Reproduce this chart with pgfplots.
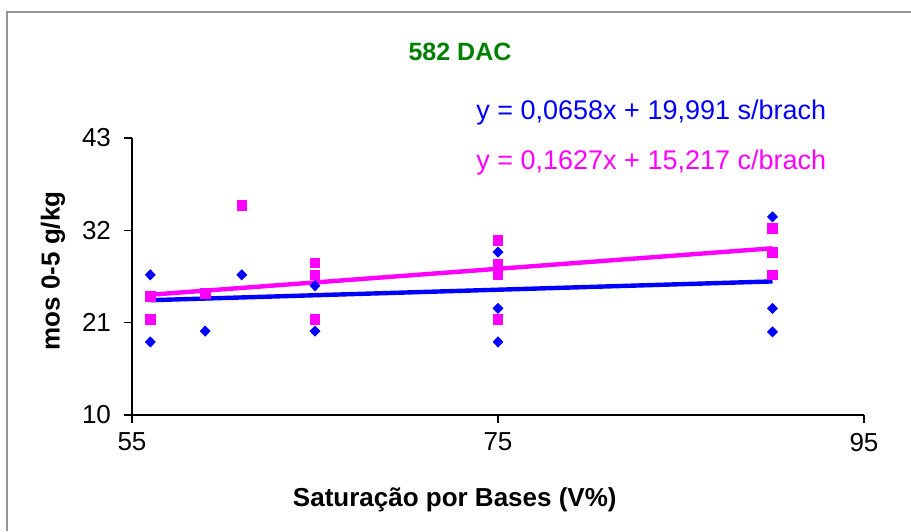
\documentclass[border=0pt]{standalone}
\usepackage{pgfplots}
\pgfplotsset{compat=1.18}
\usepackage{fontspec}
\setmainfont{Liberation Sans}
\definecolor{sblue}{RGB}{0,0,255}
\definecolor{smag}{RGB}{255,0,255}
\definecolor{titlegreen}{RGB}{0,128,0}
\definecolor{framegray}{RGB}{150,150,150}
\begin{document}
\begin{tikzpicture}[x=0.5pt,y=0.5pt]
\useasboundingbox (0,0) rectangle (911,531);
\draw[framegray, line width=0.8pt] (7,0) -- (7,519) -- (911,519);
\coordinate (O) at (132,116);
\begin{axis}[
  at={(O)}, anchor=south west,
  scale only axis, width=366pt, height=138.5pt,
  xmin=55, xmax=95, ymin=10, ymax=43,
  axis lines*=left,
  axis line style={-, black, line width=0.6pt},
  xtick={55,75,95}, ytick={10,21,32,43},
  tick align=outside, major tick length=4pt,
  tick style={black, line width=0.6pt},
  ticklabel style={font=\fontsize{13}{15}\selectfont},
  xticklabel style={yshift=-1.5pt},
  yticklabel style={xshift=-3pt},
  /pgf/number format/assume math mode=true,
  xlabel={Saturação por Bases (V\%)},
  xlabel style={at={(axis description cs:0.441,-0.307)}, anchor=center, font=\bfseries\fontsize{13}{15}\selectfont},
  ylabel={mos 0-5 g/kg},
  ylabel style={at={(axis description cs:-0.108,0.52)}, anchor=center, font=\bfseries\fontsize{13}{15}\selectfont},
  clip=false,
]
% s/brach points
\addplot[only marks, mark=diamond*, mark size=2.5pt, color=sblue, mark options={xscale=1.3}] coordinates {
 (56,26.7) (56,18.7) (59,20.0) (61,26.7) (65,25.4) (65,20.0)
 (75,29.4) (75,22.7) (75,18.7) (90,33.6) (90,22.7) (90,19.9)
};
% c/brach points
\addplot[only marks, mark=square*, mark size=2.4pt, color=smag] coordinates {
 (56,24.1) (56,21.4) (59,24.5) (61,35.0) (65,28.1) (65,26.7) (65,21.4)
 (75,30.8) (75,28.0) (75,26.7) (75,21.4) (90,32.2) (90,29.4) (90,26.7)
};
% trend lines
\addplot[no marks, sblue, line width=2.2pt] coordinates {(56,23.676) (90,25.913)};
\addplot[no marks, smag, line width=2.2pt] coordinates {(56,24.328) (90,29.860)};
\end{axis}
\node[font=\bfseries\fontsize{12.5}{15}\selectfont, text=titlegreen] at (460,479) {582 DAC};
\node[anchor=west, inner sep=0pt, font=\fontsize{13.5}{16}\selectfont, text=sblue] at (476,418) {y = 0,0658x + 19,991 s/brach};
\node[anchor=west, inner sep=0pt, font=\fontsize{13.5}{16}\selectfont, text=smag] at (476,368) {y = 0,1627x + 15,217 c/brach};
\end{tikzpicture}
\end{document}
